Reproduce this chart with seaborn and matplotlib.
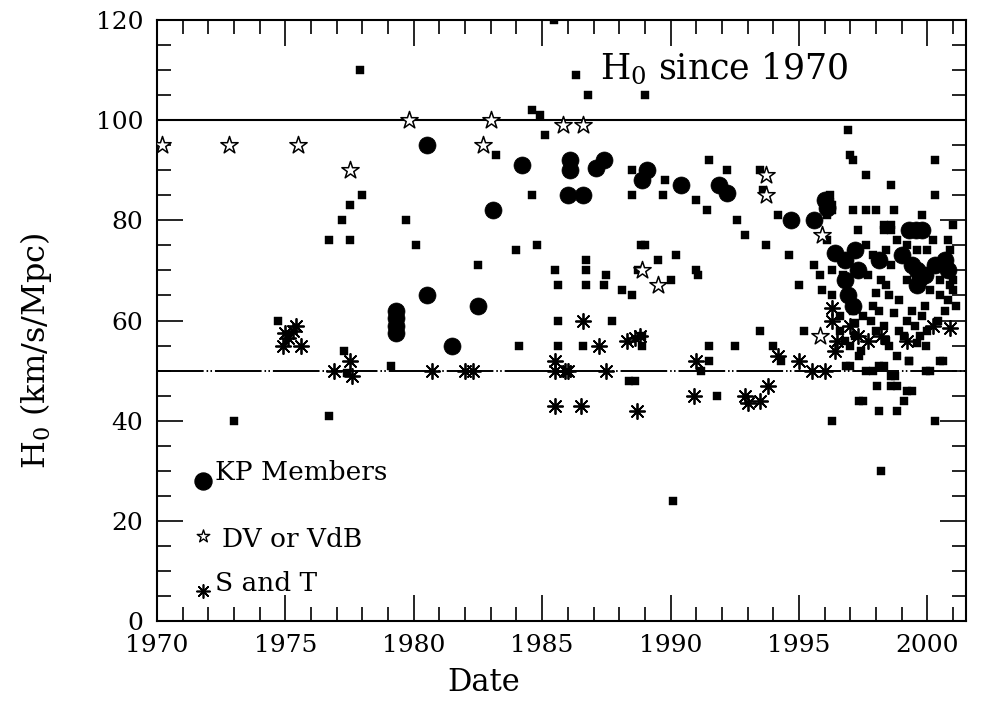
import numpy as np
import pandas as pd
import matplotlib
matplotlib.use("Agg")
import matplotlib.pyplot as plt
import seaborn as sns

# ---------------- data (year, H0) ----------------
kp_year = [1979.3, 1979.3, 1979.3, 1979.3, 1980.5, 1980.5, 1981.5, 1982.5, 1983.1, 1984.2,
           1986.1, 1986.1, 1986.0, 1986.6, 1987.1, 1987.4, 1988.9, 1989.1, 1990.4, 1991.9,
           1992.2, 1994.7, 1995.6, 1996.0, 1996.1, 1996.4, 1996.8, 1997.2, 1997.3, 1996.8,
           1996.9, 1997.1, 1998.1, 1999.0, 1999.3, 1999.55, 1999.8, 1999.4, 1999.6, 1999.7,
           2000.3, 2000.7, 2000.8, 1999.6, 1999.9]
kp_h0 = [62, 60.5, 59, 57.5, 95, 65, 55, 63, 82, 91,
         92, 90, 85, 85, 90.5, 92, 88, 90, 87, 87,
         85.5, 80, 80, 84, 82.5, 73.5, 72, 74, 70, 68,
         65, 63, 72, 73, 78, 78, 78, 71, 70, 68.5,
         71, 72, 70, 67, 69]

dv_year = [1970.2, 1972.8, 1975.5, 1977.5, 1979.8, 1982.7, 1983.0, 1985.8, 1986.6,
           1988.9, 1989.5, 1993.7, 1993.7, 1995.9, 1995.8]
dv_h0 = [95, 95, 95, 90, 100, 95, 100, 99, 99, 70, 67, 89, 85, 77, 57]

st_year = [1974.9, 1975.1, 1975.3, 1975.4, 1975.6, 1975.0, 1976.9, 1977.5, 1977.6,
           1980.7, 1982.0, 1982.3, 1985.5, 1985.5, 1985.9, 1985.5, 1986.5, 1986.0,
           1986.6, 1987.2, 1987.5, 1988.3, 1988.6, 1988.8, 1988.7, 1990.9, 1991.0,
           1992.9, 1993.0, 1993.5, 1993.8, 1994.2, 1995.0, 1995.5, 1996.0, 1996.3,
           1996.3, 1996.4, 1997.0, 1997.7, 1998.2, 1999.2, 2000.2, 2000.9, 1996.5, 1997.3]
st_h0 = [55, 56.5, 58, 59, 55, 57.5, 50, 52, 49,
         50, 50, 50, 52, 50, 50, 43, 43, 50,
         60, 55, 50, 56, 56.5, 57, 42, 45, 52,
         45, 43.5, 44, 47, 53, 52, 50, 50, 62.5,
         60, 54, 59, 56, 57, 56, 59, 58.5, 56, 57]

oth_year = [1973.0, 1974.7, 1976.7, 1976.7, 1977.2, 1977.5, 1977.5, 1977.9, 1978.0, 1977.3,
            1977.4, 1979.1, 1979.7, 1980.1, 1982.5, 1983.2, 1984.0, 1984.1, 1984.6, 1984.6,
            1984.8, 1984.9, 1985.1, 1985.45, 1985.5, 1985.6, 1985.6, 1985.6, 1986.3, 1986.8,
            1989.0, 1986.7, 1986.7, 1986.7, 1987.4, 1987.5, 1988.1, 1988.5, 1987.7, 1986.6,
            1988.4, 1988.75,
            1988.5, 1988.5, 1988.85, 1989.0, 1989.5, 1989.7, 1989.8, 1990.0, 1990.2, 1991.0,
            1991.0, 1991.05, 1991.4, 1991.5, 1992.2, 1992.6, 1992.9, 1993.5, 1993.6, 1993.7,
            1994.2, 1994.6, 1995.0, 1988.9, 1988.9, 1990.1, 1991.2, 1991.5, 1991.5, 1991.8,
            1992.5, 1993.5, 1994.0, 1994.3, 1995.2, 1988.6,
            1996.9, 1997.0, 1997.1, 1997.6, 1998.6, 2000.3, 2000.3, 1996.1, 1996.2, 1996.3,
            1996.1, 1996.3, 1997.1, 1997.6, 1998.0, 1998.7, 1999.8, 1997.3, 1998.3, 1998.6,
            1998.3, 1998.6, 2001.0, 2000.8, 1996.1, 1995.6, 1995.8, 1996.3, 1996.7, 1998.2,
            1998.6, 1999.6, 2000.5, 2001.0, 1995.9, 1996.3, 1998.0, 1998.5, 1998.9, 1999.9,
            2000.5, 2001.0, 1997.1, 1997.5, 1998.1, 1998.7, 1999.2, 1999.8, 1998.0, 1998.5,
            1999.95, 1998.8, 1999.3, 2000.5, 1996.85, 1997.35, 1997.6, 1997.9, 1998.1, 1999.95,
            1998.6, 1998.05, 1998.6, 1999.2, 1997.35, 1999.1, 1998.1, 1998.8, 1996.3, 2000.3,
            1998.2, 1997.0, 1998.3, 2000.1, 2000.6, 1999.3, 1998.75, 1999.4, 1997.5, 1998.8,
            1996.6, 1996.8, 1997.0, 1997.2, 1997.4, 1997.8, 1998.3, 1998.9, 1999.1, 1999.5,
            1999.7, 2000.0, 2000.4, 2000.7, 1999.4, 1997.9, 1996.6, 1997.2, 1998.4, 1999.6,
            2000.8, 2001.1, 1997.6, 1997.9, 1998.4, 1998.8, 1999.2, 2000.0, 2000.2, 2000.9,
            1997.7, 1998.4, 1999.2, 2000.1, 2000.9]
oth_h0 = [40, 60, 41, 76, 80, 83, 76, 110, 85, 54,
          49.5, 51, 80, 75, 71, 93, 74, 55, 102, 85,
          75, 101, 97, 120, 70, 67, 60, 55, 109, 105,
          105, 72, 70, 67, 67, 69, 66, 65, 60, 55,
          48, 70,
          90, 85, 75, 75, 72, 85, 88, 68, 73, 84,
          70, 69, 82, 92, 90, 80, 77, 90, 86, 75,
          81, 73, 67, 57, 55, 24, 50, 52, 55, 45,
          55, 58, 55, 52, 58, 48,
          98, 93, 92, 89, 87, 92, 85, 84, 85, 83,
          81, 82, 82, 82, 82, 82, 81, 78, 79, 79,
          78, 78, 79, 76, 76, 71, 69, 70, 69, 68,
          71, 74, 68, 68, 66, 65, 65.5, 65, 64, 63,
          65, 66, 62, 61, 62, 61.5, 60, 61, 58, 55,
          55, 53, 52, 52, 51, 53, 50, 50, 51, 50,
          49, 47, 47, 46, 44, 44, 42, 42, 40, 40,
          30, 51, 51, 50, 52, 52, 49, 46, 44, 47,
          58, 56, 55, 57, 54, 60, 59, 58, 57, 59,
          57, 58, 60, 62, 62, 63, 61, 59.5, 56, 55.5,
          64, 63, 75, 73, 74, 76, 75, 74, 76, 74,
          69, 67, 68, 66, 67]

x_ticks = [1970, 1975, 1980, 1985, 1990, 1995, 2000]
y_ticks = [0, 20, 40, 60, 80, 100, 120]
ref_lines = [100, 50]
title_text = "H$_0$ since 1970"
legend_labels = ["KP Members", "DV or VdB", "S and T"]
legend_year = [1971.8, 1971.8, 1971.8]
legend_h0 = [28, 17, 6]

# ---------------- style ----------------
sns.set_theme(style="ticks")
plt.rcParams["font.family"] = ["DejaVu Serif", "DejaVu Sans"]
plt.rcParams["mathtext.fontset"] = "dejavuserif"
for key in ["text.color", "axes.labelcolor", "xtick.color", "ytick.color", "axes.edgecolor"]:
    plt.rcParams[key] = "black"

fig = plt.figure(figsize=(10.03, 7.01), dpi=100)
ax = fig.add_axes([0.1565, 0.114, 0.8065, 0.8575])

kp = pd.DataFrame({"year": kp_year, "h0": kp_h0})
dv = pd.DataFrame({"year": dv_year, "h0": dv_h0})
st = pd.DataFrame({"year": st_year, "h0": st_h0})
ot = pd.DataFrame({"year": oth_year, "h0": oth_h0})

# reference lines
ax.axhline(ref_lines[0], color="black", lw=1.5, zorder=1)
ax.axhline(ref_lines[1], color="black", lw=1.4, zorder=1,
           linestyle=(0, (24, 1.5, 0.8, 1.2, 0.8, 1.5)))

sns.scatterplot(data=ot, x="year", y="h0", ax=ax, marker="s", s=27,
                color="black", edgecolor="black", linewidth=0.3, zorder=3)
sns.scatterplot(data=kp, x="year", y="h0", ax=ax, marker="o", s=150,
                color="black", edgecolor="black", linewidth=0.5, zorder=4)
sns.scatterplot(data=dv, x="year", y="h0", ax=ax, marker="*", s=170,
                facecolor="white", edgecolor="black", linewidth=1.1, zorder=5)
sns.scatterplot(data=st, x="year", y="h0", ax=ax, marker=(8, 2, 0), s=120,
                color="black", edgecolor="black", linewidth=1.3, zorder=5)

# legend block
leg_df = pd.DataFrame({"year": legend_year, "h0": legend_h0})
sns.scatterplot(data=leg_df.iloc[[0]], x="year", y="h0", ax=ax, marker="o", s=150,
                color="black", edgecolor="black", zorder=6)
sns.scatterplot(data=leg_df.iloc[[1]], x="year", y="h0", ax=ax, marker="*", s=90,
                facecolor="white", edgecolor="black", linewidth=1.0, zorder=6)
sns.scatterplot(data=leg_df.iloc[[2]], x="year", y="h0", ax=ax, marker=(8, 2, 0), s=90,
                color="black", edgecolor="black", linewidth=1.2, zorder=6)
ax.text(legend_year[0] + 0.45, legend_h0[0] + 1.6, legend_labels[0], fontsize=19,
        va="center", ha="left")
ax.text(legend_year[1] + 0.75, legend_h0[1] - 0.8, legend_labels[1], fontsize=19,
        va="center", ha="left")
ax.text(legend_year[2] + 0.45, legend_h0[2] + 1.6, legend_labels[2], fontsize=19,
        va="center", ha="left")

ax.text(0.548, 0.918, title_text, transform=ax.transAxes, fontsize=25,
        ha="left", va="center")

ax.set_xlim(1970, 2001.5)
ax.set_ylim(0, 120)
ax.set_xticks(x_ticks)
ax.set_yticks(y_ticks)
ax.set_xticks(np.arange(1970, 2002, 1), minor=True)
ax.set_yticks(np.arange(0, 121, 5), minor=True)
ax.tick_params(which="both", direction="in", top=True, right=True, width=1.2,
               colors="black", labelsize=18)
ax.tick_params(which="major", length=19)
ax.tick_params(which="minor", length=10)
ax.tick_params(axis="x", which="major", pad=9)
ax.tick_params(axis="y", which="major", pad=10)
for sp in ax.spines.values():
    sp.set_linewidth(1.5)
    sp.set_color("black")

ax.set_xlabel("Date", fontsize=22)
ax.set_ylabel("H$_0$ (km/s/Mpc)", fontsize=23)
ax.xaxis.set_label_coords(0.404, -0.077)
ax.yaxis.set_label_coords(-0.127, 0.45)

fig.savefig("out.png", dpi=100, facecolor="white")
